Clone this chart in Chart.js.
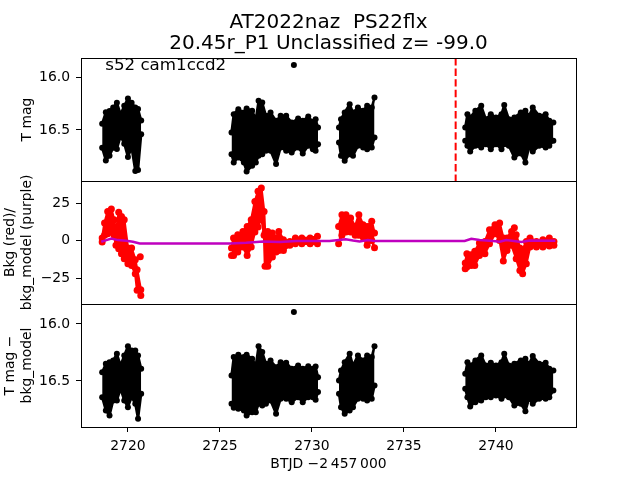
<!DOCTYPE html>
<html>
<head>
<meta charset="utf-8">
<script src="https://cdn.jsdelivr.net/npm/chart.js@4"></script>
<style>
  html, body { margin: 0; background: #fff; }
  canvas { display: block; }
</style>
</head>
<body>
<canvas id="plot" width="640" height="480"></canvas>
<script>
// time columns for the T mag panels, null = gap between orbits
const magX = [2718.6,2718.8,2719.0,2719.2,2719.4,2719.6,2719.8,2720.0,2720.2,2720.4,2720.55,2720.72,null,
  2725.63,2725.75,2726.0,2726.3,2726.45,2726.75,2726.95,2727.1,2727.3,2727.5,2727.75,2728.05,2728.3,2728.6,2728.9,2729.25,2729.5,2729.8,2730.05,2730.2,2730.33,null,
  2731.47,2731.58,2731.78,2732.05,2732.23,2732.5,2732.78,2733.0,2733.25,2733.4,null,
  2738.33,2738.45,2738.6,2738.88,2739.2,2739.45,2739.72,2740.0,2740.3,2740.45,2740.7,2741.0,2741.35,2741.6,2741.8,2742.0,2742.35,2742.7,2742.9,2743.12];

// top panel, bright and faint edge of the scatter
const magHi = [16.44,16.33,16.32,16.285,16.24,16.35,16.27,16.2,16.24,16.285,16.3,16.41,null,
  16.524,16.349,16.302,16.333,16.295,16.317,16.397,16.222,16.238,16.365,16.333,16.413,16.365,16.365,16.429,16.39,16.413,16.371,16.422,16.397,16.476,null,
  16.476,16.397,16.333,16.254,16.333,16.286,16.317,16.27,16.286,16.19,null,
  16.476,16.349,16.381,16.317,16.27,16.397,16.349,16.381,16.349,16.263,16.397,16.381,16.333,16.317,16.365,16.286,16.365,16.349,16.413,16.429];
const magLo = [16.67,16.79,16.745,16.67,16.68,16.56,16.63,16.757,16.67,16.89,16.88,16.54,null,
  16.73,16.81,16.762,16.81,16.895,16.841,16.81,16.746,16.73,16.698,16.698,16.825,16.667,16.698,16.714,16.667,16.724,16.651,16.683,16.698,16.635,null,
  16.619,16.746,16.794,16.73,16.746,16.651,16.667,16.683,16.667,16.571,null,
  16.603,16.651,16.705,16.651,16.667,16.635,16.683,16.635,16.683,16.635,16.651,16.762,16.724,16.81,16.667,16.705,16.651,16.667,16.651,16.603];

// bottom panel, background subtracted
const subHi = [16.423,16.349,16.335,16.32,16.262,16.364,16.276,16.195,16.232,16.232,16.276,16.393,null,
  16.452,16.291,16.27,16.291,16.27,16.306,16.364,16.195,16.247,16.349,16.32,16.379,16.335,16.34,16.393,16.364,16.393,16.37,16.393,16.373,16.467,null,
  16.496,16.408,16.335,16.262,16.364,16.276,16.32,16.276,16.291,16.195,null,
  16.437,16.335,16.364,16.32,16.276,16.364,16.34,16.364,16.335,16.262,16.364,16.349,16.32,16.306,16.349,16.282,16.349,16.34,16.393,16.408];
const subLo = [16.642,16.759,16.803,16.671,16.671,16.569,16.671,16.73,16.642,16.7,16.832,16.612,null,
  16.7,16.735,16.744,16.759,16.803,16.774,16.774,16.7,16.715,16.7,16.671,16.788,16.656,16.656,16.686,16.642,16.686,16.642,16.642,16.665,16.598,null,
  16.612,16.73,16.788,16.759,16.73,16.656,16.656,16.671,16.656,16.539,null,
  16.569,16.642,16.724,16.686,16.671,16.642,16.642,16.627,16.656,16.627,16.642,16.715,16.7,16.765,16.656,16.7,16.656,16.656,16.642,16.583];

const flareX = [2729.02];
const flareMag = [15.88];
const flareSub = [15.895];

// background columns
const bkgX = [2718.6,2718.73,2718.9,2719.1,2719.25,2719.35,2719.5,2719.65,2719.8,2720.0,2720.2,2720.4,2720.5,2720.7,null,
  2725.63,2725.74,2725.97,2726.25,2726.48,2726.7,2726.9,2727.07,2727.25,2727.4,2727.45,2727.6,2727.85,2728.05,2728.2,2728.45,2728.8,2729.1,2729.45,2729.9,2730.3,null,
  2731.45,2731.63,2731.85,2732.1,2732.35,2732.55,2732.78,2733.0,2733.25,2733.4,null,
  2738.33,2738.42,2738.65,2738.85,2739.1,2739.4,2739.65,2739.95,2740.2,2740.4,2740.6,2740.85,2741.1,2741.3,2741.45,2741.65,2741.85,2742.2,2742.55,2742.9,2743.15];
const bkgHi = [1.7,11.7,19.4,21,13.9,5,18.8,16.1,13.9,-5,-5,-12.8,-19.4,-32.8,null,
  -5,1.7,3.9,6.1,9.4,13.9,26.1,32.8,35,19.4,5,6.1,5,1.7,6.1,0.6,-0.6,1.7,1.7,1.7,2.8,null,
  9.4,17.2,17.2,15,9.4,17.2,10.6,9.4,12.8,5,null,
  -15,-8.8,-9.4,-7.2,-1.7,-0.6,7.2,10.6,11.7,1.7,1.7,6.1,3.9,-5,-6.1,-0.6,1.7,-0.6,0.6,1.7,-0.6];
const bkgLo = [-1,3.5,4.6,5.7,3.5,-3.2,-5.4,-8.8,-12.1,-15.4,-16.6,-22.1,-33.2,-36.6,null,
  -9.9,-9.9,-7.7,-4.3,-9.9,-4.3,5.7,9,15.7,3.5,-17.2,-17.2,-11,-7.7,-6.6,-6.6,-3.2,-2.1,-2.1,-2.1,-2.1,null,
  -2.1,3.5,5.7,5.7,3.5,3.5,2.3,-3.2,0.1,-4.8,null,
  -18.8,-17.7,-16.6,-16.6,-9.9,-8.8,-2.1,4.6,0.1,-13.7,-6.6,-3.2,-12.1,-19.9,-22.1,-15.4,-4.3,-4.3,-4.3,-3.7,-3.2];
const bkgExtraX = [2720.67, 2741.0];
const bkgExtraY = [-10.8, 8.5];

const modelX = [2718.55,2718.83,2719.1,2719.46,2719.91,2720.27,2720.64,2725.53,2726.43,2727.34,2728.24,2729.15,2730.42,2730.96,2731.83,2732.23,2732.59,2733.04,2733.41,2738.3,2738.66,2739.11,2739.84,2740.2,2740.56,2741.38,2741.83,2743.23];
const modelY = [-0.8,0.3,1.4,0.3,-0.1,-0.8,-1.9,-1.9,-1.5,-0.6,-1,-0.3,-0.3,-0.3,0.8,0,-0.6,0.3,-0.3,-0.3,1.2,0.3,-0.3,-0.8,0.3,-1,0.1,-0.1];

const markX = 2737.81;

const xTicks = [2720, 2725, 2730, 2735, 2740];
const magTicks = [16.0, 16.5];
const bkgTicks = [-25, 0, 25];

const magRange = [15.814, 16.986];
const bkgRange = [-42.3, 39.7];
const subRange = [15.825, 16.904];

const BLACK = '#000';
const RED = '#ff0000';
const FONT = 'DejaVu Sans';

// one edge of a scatter band, gap rows keep the previous x with no y
function edge(xs, ys) {
  return xs.map((x, i) => x === null ? { x: xs[i - 1], y: null } : { x, y: ys[i] });
}
const pairs = (xs, ys) => xs.map((x, i) => ({ x, y: ys[i] }));

// bright edge filled down to the faint edge
function bandSets(xs, hi, lo, axis, color, r) {
  const base = { yAxisID: axis, showLine: true, borderColor: color, backgroundColor: color, borderWidth: 2.5, pointRadius: r, pointBorderWidth: 0, borderJoinStyle: 'round' };
  return [
    { ...base, data: edge(xs, hi), fill: '+1' },
    { ...base, data: edge(xs, lo) }
  ];
}

function yAxis(range, ticks, title, fmt) {
  return {
    type: 'linear',
    position: 'left',
    stack: 'panels',
    stackWeight: 1,
    min: range[0],
    max: range[1],
    reverse: range !== bkgRange,
    afterBuildTicks: s => { s.ticks = ticks.map(value => ({ value })); },
    afterFit: s => { s.width = 81; },
    ticks: { color: BLACK, font: { family: FONT, size: 13.9 }, padding: 6, callback: fmt },
    grid: { drawOnChartArea: false, color: BLACK, tickLength: 5, tickWidth: 1 },
    border: { display: false },
    title: { display: true, text: title, color: BLACK, font: { family: FONT, size: 13.9 }, padding: { top: 2, bottom: 0 } }
  };
}

// spines on each panel plus the sector label
const panelFrame = {
  id: 'panelFrame',
  afterDatasetsDraw(chart) {
    const { ctx, chartArea, scales } = chart;
    ctx.save();
    ctx.strokeStyle = BLACK;
    ctx.lineWidth = 1;
    ['y1', 'y2', 'y3'].forEach(id => {
      const s = scales[id];
      ctx.strokeRect(Math.round(chartArea.left) + 0.5, Math.round(s.top) + 0.5,
        Math.round(chartArea.width), Math.round(s.bottom - s.top));
    });
    ctx.fillStyle = BLACK;
    ctx.font = '16.67px "' + FONT + '"';
    ctx.fillText('s52 cam1ccd2', scales.x.getPixelForValue(2718.77), scales.y1.getPixelForValue(15.93));
    ctx.restore();
  }
};

new Chart(document.getElementById('plot'), {
  type: 'scatter',
  data: {
    datasets: [
      ...bandSets(magX, magHi, magLo, 'y1', BLACK, 3),
      { data: pairs(flareX, flareMag), yAxisID: 'y1', backgroundColor: BLACK, pointRadius: 3, pointBorderWidth: 0 },
      { data: [{ x: markX, y: magRange[0] }, { x: markX, y: magRange[1] }], yAxisID: 'y1', showLine: true, borderColor: RED, borderWidth: 2, borderDash: [7.4, 3.2], pointRadius: 0 },
      { data: pairs(modelX, modelY), yAxisID: 'y2', showLine: true, borderColor: '#bf00bf', borderWidth: 2.5, pointRadius: 0, order: -1 },
      ...bandSets(bkgX, bkgHi, bkgLo, 'y2', RED, 3.5),
      { data: pairs(bkgExtraX, bkgExtraY), yAxisID: 'y2', backgroundColor: RED, pointRadius: 3.5, pointBorderWidth: 0 },
      ...bandSets(magX, subHi, subLo, 'y3', BLACK, 3),
      { data: pairs(flareX, flareSub), yAxisID: 'y3', backgroundColor: BLACK, pointRadius: 3, pointBorderWidth: 0 }
    ]
  },
  options: {
    responsive: false,
    animation: false,
    layout: { padding: { left: 0, right: 64, top: 0, bottom: 7 } },
    plugins: {
      legend: { display: false },
      tooltip: { enabled: false },
      filler: { propagate: false },
      title: {
        display: true,
        fullSize: false,
        text: ['AT2022naz  PS22flx', '20.45r_P1 Unclassified z= -99.0'],
        color: BLACK,
        font: { family: FONT, size: 20, weight: 'normal', lineHeight: 1.05 },
        padding: { top: 12, bottom: 4 }
      }
    },
    scales: {
      x: {
        type: 'linear',
        position: 'bottom',
        min: 2717.45,
        max: 2744.35,
        afterBuildTicks: s => { s.ticks = xTicks.map(value => ({ value })); },
        afterFit: s => { s.height = 46; },
        ticks: { color: BLACK, font: { family: FONT, size: 13.9 }, maxRotation: 0, padding: 6, callback: v => String(v) },
        grid: { drawOnChartArea: false, color: BLACK, tickLength: 5 },
        border: { display: false },
        title: { display: true, text: 'BTJD \u22122\u2009457\u2009000', color: BLACK, font: { family: FONT, size: 13.9 }, padding: 0 }
      },
      y3: yAxis(subRange, magTicks, ['T mag \u2212', 'bkg_model'], v => v.toFixed(1)),
      y2: yAxis(bkgRange, bkgTicks, ['Bkg (red)/', 'bkg_model (purple)'], v => String(v).replace('-', '\u2212')),
      y1: yAxis(magRange, magTicks, ['', 'T mag'], v => v.toFixed(1))
    }
  },
  plugins: [panelFrame]
});
</script>
</body>
</html>
